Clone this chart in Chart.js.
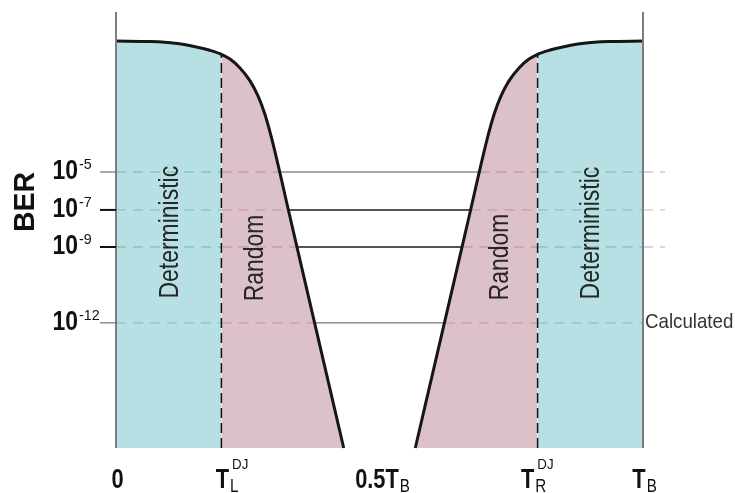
<!DOCTYPE html>
<html>
<head>
<meta charset="utf-8">
<script src="https://cdn.jsdelivr.net/npm/chart.js@4/dist/chart.umd.min.js"></script>
<style>
  html, body { margin: 0; padding: 0; background: #ffffff; }
  #wrap { width: 735px; height: 493px; }
</style>
</head>
<body>
<div id="wrap"><canvas id="c" width="735" height="493"></canvas></div>
<script>
// ---- data (x in unit intervals, y in schematic height units, 0 = axis floor) ----
const leftCurveX  = [0, 0.0645, 0.112, 0.150, 0.178, 0.2, 0.2163, 0.2353, 0.2543, 0.2694, 0.2827, 0.2960, 0.3302, 0.3681, 0.4321];
const leftCurveY  = [93.35, 93.21, 92.82, 92.04, 91.22, 90.30, 89.20, 87.18, 84.20, 80.76, 76.49, 70.71, 52.98, 33.24, 0];
const rightCurveX = [0.5679, 0.6319, 0.6698, 0.7040, 0.7173, 0.7306, 0.7457, 0.7647, 0.7837, 0.8, 0.822, 0.850, 0.888, 0.9355, 1];
const rightCurveY = [0, 33.24, 52.98, 70.71, 76.49, 80.76, 84.20, 87.18, 89.20, 90.30, 91.22, 92.04, 92.82, 93.21, 93.35];

const tL = 0.2;           // T_L^DJ
const tR = 0.8;           // T_R^DJ
const tLTop = 90.3;       // curve height at T_L
const tRTop = 90.3;       // curve height at T_R

const berTickPos   = [63.3, 54.6, 46.1, 28.7];
const berTickBase  = ['10', '10', '10', '10'];
const berTickExp   = ['-5', '-7', '-9', '-12'];
const berLeftX     = [0.310, 0.327, 0.342, 0.376];
const berRightX    = [0.690, 0.673, 0.658, 0.624];

const xTickValues = [0, 0.2, 0.5, 0.8, 1];
const xTickMain   = ['0', 'T', '0.5T', 'T', 'T'];
const xTickSub    = ['', 'L', 'B', 'R', 'B'];
const xTickSup    = ['', 'DJ', '', 'DJ', ''];

const regionLabels = ['Deterministic', 'Random', 'Random', 'Deterministic'];
const yAxisTitle = 'BER';
const calcLabel = 'Calculated';

// ---- build datasets ----
const leftPts  = leftCurveX.map((x, i) => ({ x, y: leftCurveY[i] }));
const rightPts = rightCurveX.map((x, i) => ({ x, y: rightCurveY[i] }));
const cyan = '#b7e0e4';
const pink = '#dcc1c9';

function seg(a, b, y) { return [{ x: a, y }, { x: b, y }, { x: b, y: null }]; }

const tealDash = [], pinkDash = [], greyDash = [];
const solidThin = [], solidBold = [];
berTickPos.forEach((y, i) => {
  tealDash.push(...seg(0, tL, y), ...seg(tR, 1, y));
  pinkDash.push(...seg(tL, berLeftX[i], y), ...seg(berRightX[i], tR, y));
  if (i < 3) greyDash.push(...seg(1, 1.042, y));
  if (i === 1 || i === 2) solidBold.push(...seg(berLeftX[i], berRightX[i], y));
  else solidThin.push(...seg(berLeftX[i], berRightX[i], y));
});

const base = { showLine: true, pointRadius: 0, pointHoverRadius: 0, spanGaps: false, tension: 0 };
const curveCommon = { cubicInterpolationMode: 'monotone' };

const datasets = [
  Object.assign({}, base, curveCommon, { data: leftPts.filter(p => p.x <= tL), fill: 'origin', backgroundColor: cyan, borderWidth: 0, order: 20 }),
  Object.assign({}, base, curveCommon, { data: leftPts.filter(p => p.x >= tL), fill: 'origin', backgroundColor: pink, borderWidth: 0, order: 20 }),
  Object.assign({}, base, curveCommon, { data: rightPts.filter(p => p.x <= tR), fill: 'origin', backgroundColor: pink, borderWidth: 0, order: 20 }),
  Object.assign({}, base, curveCommon, { data: rightPts.filter(p => p.x >= tR), fill: 'origin', backgroundColor: cyan, borderWidth: 0, order: 20 }),
  Object.assign({}, base, { data: tealDash, borderColor: '#86c6bb', borderWidth: 1.3, borderDash: [10, 7], order: 10 }),
  Object.assign({}, base, { data: pinkDash, borderColor: '#c39dab', borderWidth: 1.3, borderDash: [10, 7], order: 10 }),
  Object.assign({}, base, { data: greyDash, borderColor: '#bcd0cd', borderWidth: 1.3, borderDash: [10, 7], order: 10, clip: false }),
  Object.assign({}, base, { data: solidThin, borderColor: '#555555', borderWidth: 1, order: 9 }),
  Object.assign({}, base, { data: solidBold, borderColor: '#1e1e1e', borderWidth: 1.6, order: 9 }),
  Object.assign({}, base, { data: [{ x: tL, y: 0 }, { x: tL, y: tLTop }], borderColor: '#111', borderWidth: 1.5, borderDash: [10, 5], order: 5 }),
  Object.assign({}, base, { data: [{ x: tR, y: 0 }, { x: tR, y: tRTop }], borderColor: '#111', borderWidth: 1.5, borderDash: [10, 5], order: 5 }),
  Object.assign({}, base, curveCommon, { data: leftPts, borderColor: '#161616', borderWidth: 3, fill: false, order: 1, clip: false }),
  Object.assign({}, base, curveCommon, { data: rightPts, borderColor: '#161616', borderWidth: 3, fill: false, order: 1, clip: false })
];

const FONT = "'Liberation Sans', Arial, sans-serif";

// draw horizontally condensed text; returns drawn width
function txt(ctx, s, x, y, font, align, sx, color) {
  ctx.save();
  ctx.font = font;
  ctx.fillStyle = color || '#111';
  const w = ctx.measureText(s).width * sx;
  const left = align === 'center' ? x - w / 2 : (align === 'right' ? x - w : x);
  ctx.translate(left, y);
  ctx.scale(sx, 1);
  ctx.textAlign = 'left';
  ctx.textBaseline = 'alphabetic';
  ctx.fillText(s, 0, 0);
  ctx.restore();
  return w;
}

function rtxt(ctx, s, cx, cy, font, sx, color) {
  ctx.save();
  ctx.translate(cx, cy);
  ctx.rotate(-Math.PI / 2);
  ctx.scale(sx, 1);
  ctx.font = font;
  ctx.fillStyle = color;
  ctx.textAlign = 'center';
  ctx.textBaseline = 'middle';
  ctx.fillText(s, 0, 0);
  ctx.restore();
}

const decor = {
  id: 'decor',
  afterDraw(chart) {
    const ctx = chart.ctx;
    const xs = chart.scales.x, ys = chart.scales.y;
    const area = chart.chartArea;
    ctx.save();
    // axis lines
    ctx.strokeStyle = '#7d7d7d';
    ctx.lineWidth = 2;
    ctx.beginPath();
    ctx.moveTo(xs.getPixelForValue(0), area.top);
    ctx.lineTo(xs.getPixelForValue(0), ys.getPixelForValue(0));
    ctx.moveTo(xs.getPixelForValue(1), area.top);
    ctx.lineTo(xs.getPixelForValue(1), ys.getPixelForValue(0));
    ctx.stroke();

    // y ticks + labels
    const x0 = xs.getPixelForValue(0);
    berTickPos.forEach((v, i) => {
      const py = ys.getPixelForValue(v);
      ctx.strokeStyle = (i === 1 || i === 2) ? '#111' : '#555';
      ctx.lineWidth = (i === 1 || i === 2) ? 2 : 1;
      ctx.beginPath();
      ctx.moveTo(x0 - 16, py);
      ctx.lineTo(x0, py);
      ctx.stroke();
      const by = py + 7;
      txt(ctx, berTickBase[i], x0 - 38, by, 'bold 28px ' + FONT, 'right', 0.82);
      txt(ctx, berTickExp[i], x0 - 37, by - 10, '15px ' + FONT, 'left', 0.95);
    });

    // y title
    rtxt(ctx, yAxisTitle, 26, 202, 'bold 30px ' + FONT, 0.95, '#111');

    // x labels
    const xOff = [1.5, 1, -2.5, -10, -4];
    const baseY = ys.getPixelForValue(0) + 40;
    xTickValues.forEach((v, i) => {
      const px = xs.getPixelForValue(v) + xOff[i];
      const w = txt(ctx, xTickMain[i], px, baseY, 'bold 28px ' + FONT, 'center', 0.78);
      const right = px + w / 2;
      if (xTickSub[i]) txt(ctx, xTickSub[i], right + 1, baseY + 4, '19px ' + FONT, 'left', 0.8);
      if (xTickSup[i]) txt(ctx, xTickSup[i], right + 3, baseY - 19, '14px ' + FONT, 'left', 0.95);
    });

    // rotated region labels
    const rl = [[0.1025, 49.5], [0.264, 43.6], [0.729, 43.8], [0.901, 49.3]];
    rl.forEach((p, i) => {
      rtxt(ctx, regionLabels[i], xs.getPixelForValue(p[0]), ys.getPixelForValue(p[1]), '28px ' + FONT, 0.82, '#262626');
    });

    // Calculated label
    txt(ctx, calcLabel, xs.getPixelForValue(1) + 2, ys.getPixelForValue(berTickPos[3]) + 5, '21px ' + FONT, 'left', 0.89, '#333');
    ctx.restore();
  }
};

new Chart(document.getElementById('c'), {
  type: 'scatter',
  data: { datasets },
  options: {
    responsive: false,
    animation: false,
    layout: { padding: { left: 116, right: 92, top: 12, bottom: 45 } },
    plugins: { legend: { display: false }, tooltip: { enabled: false } },
    scales: {
      x: { type: 'linear', min: 0, max: 1, display: false },
      y: { type: 'linear', min: 0, max: 100, display: false }
    }
  },
  plugins: [decor]
});
</script>
</body>
</html>
